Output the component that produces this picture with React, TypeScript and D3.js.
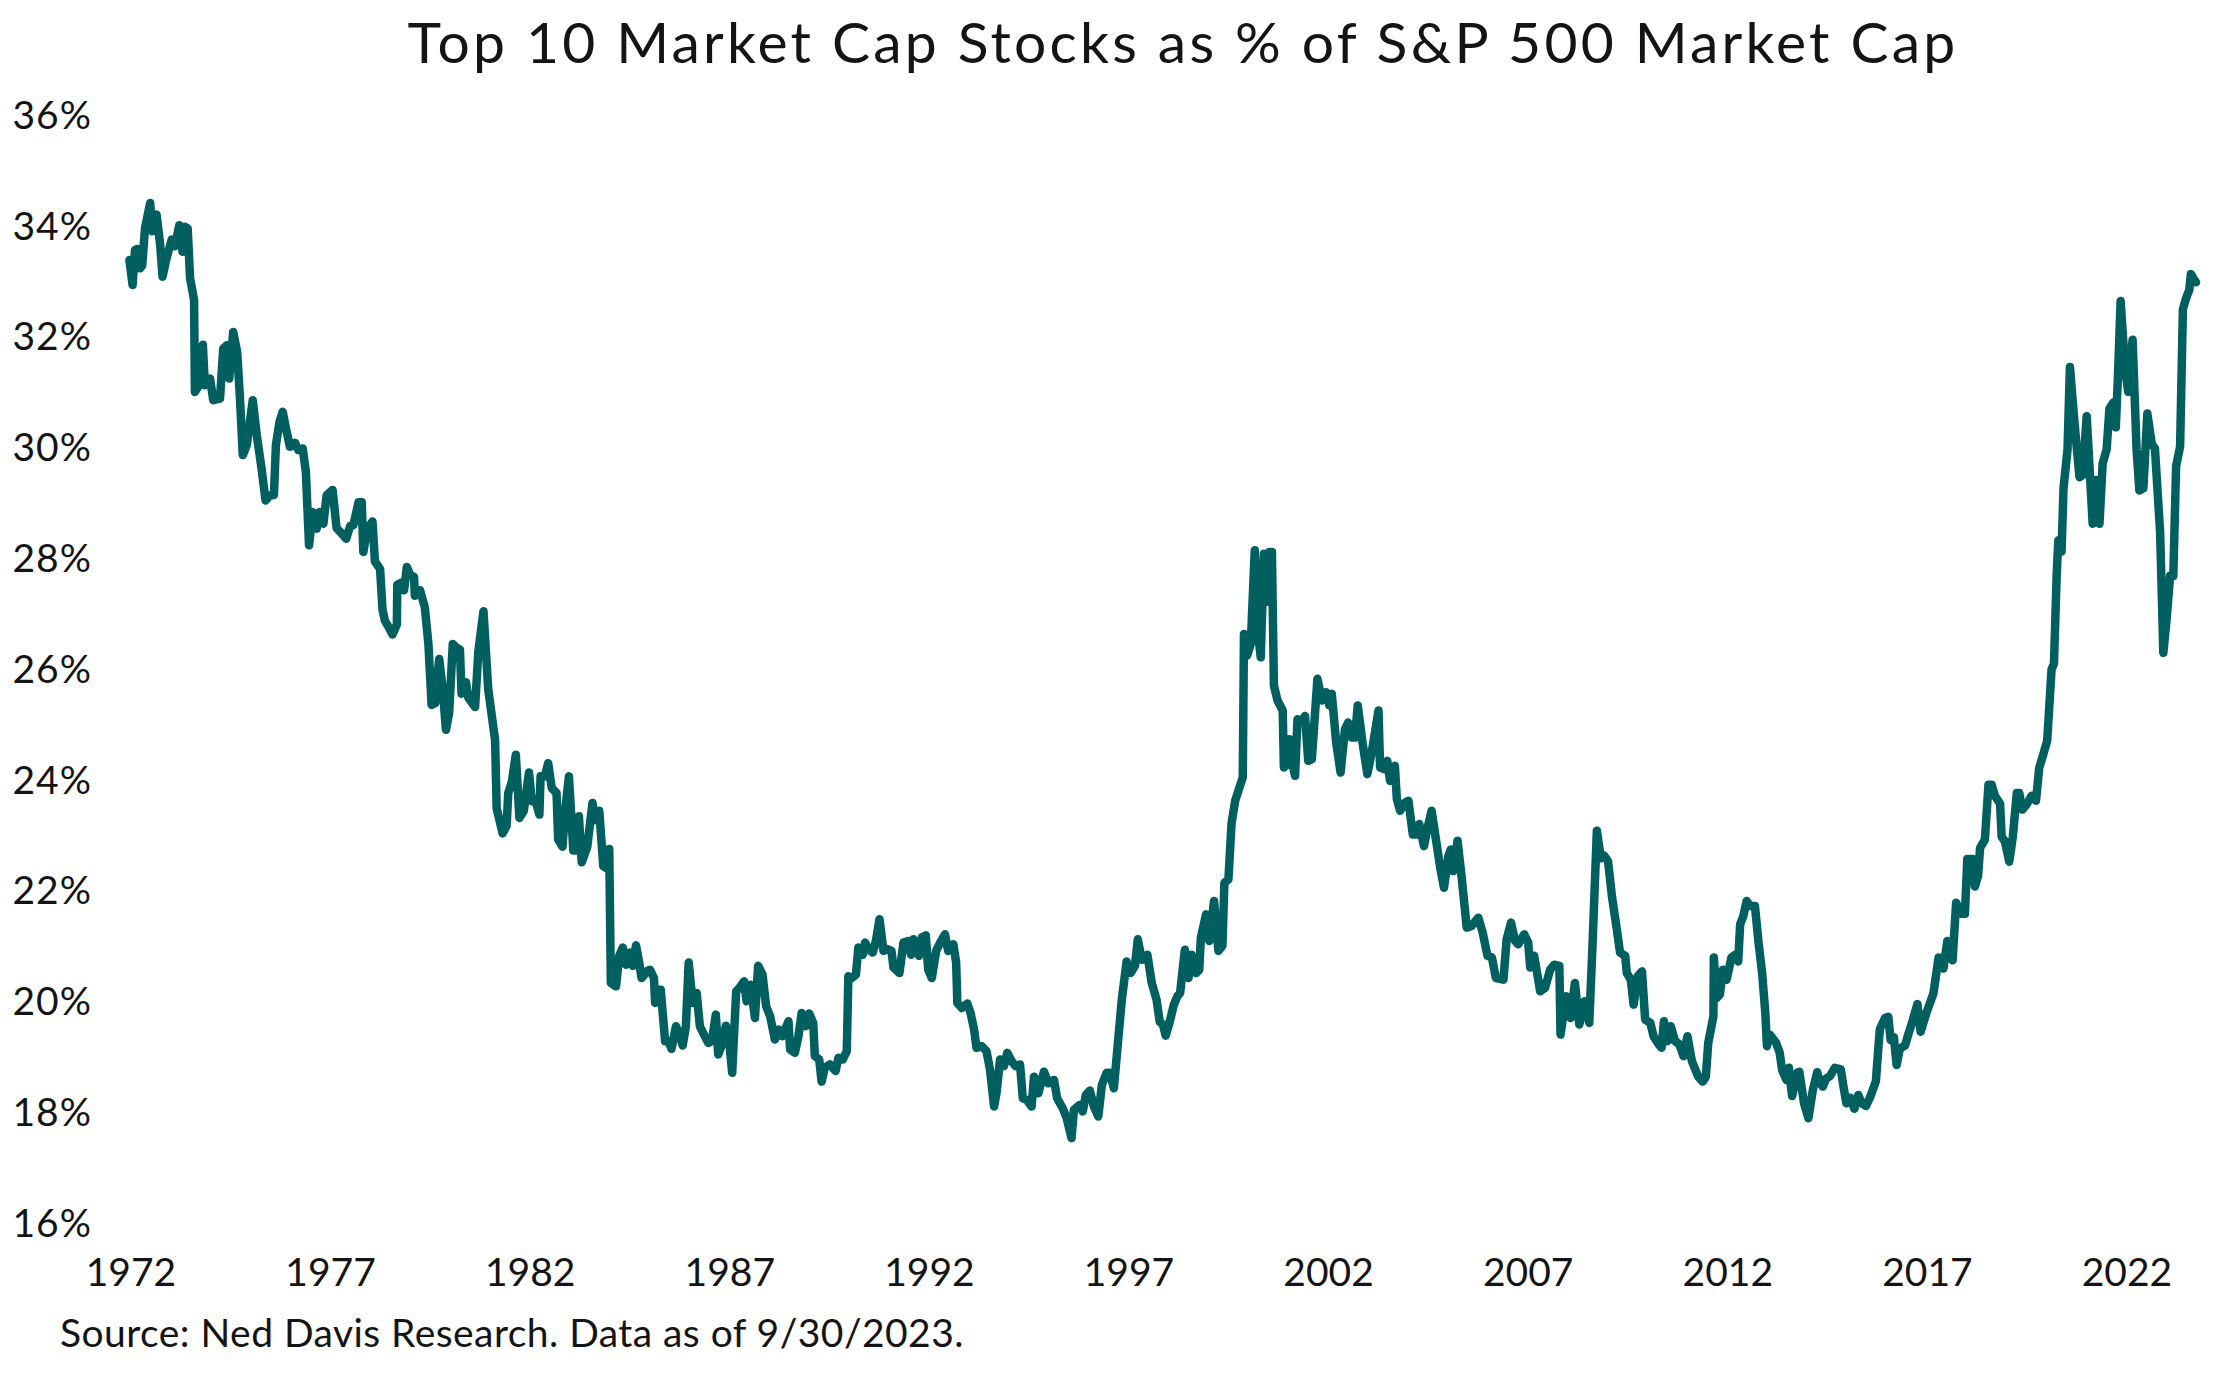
import React from "react";
import * as d3 from "d3";

const TITLE = "Top 10 Market Cap Stocks as % of S&P 500 Market Cap";
const SOURCE = "Source: Ned Davis Research. Data as of 9/30/2023.";

const yTicks = [16, 18, 20, 22, 24, 26, 28, 30, 32, 34, 36];
const xTicks = [1972, 1977, 1982, 1987, 1992, 1997, 2002, 2007, 2012, 2017, 2022];

// [decimal year, % of S&P 500 market cap]
const points1972to1977: [number, number][] = [
  [1971.96,33.4],[1972.04,32.95],[1972.10,33.58],[1972.16,33.6],[1972.23,33.25],[1972.28,33.3],[1972.35,33.97],[1972.48,34.43],[1972.53,33.92],[1972.64,34.22],[1972.73,33.68],[1972.79,33.10],[1972.89,33.43],[1973.02,33.77],[1973.10,33.65],[1973.21,34.03],[1973.29,33.55],[1973.35,34.0],[1973.42,33.97],[1973.48,33.07],[1973.58,32.68],[1973.60,31.02],[1973.71,31.14],[1973.80,31.87],[1973.85,31.14],[1973.98,31.26],[1974.06,30.87],[1974.23,30.9],[1974.31,31.80],[1974.40,31.86],[1974.46,31.26],[1974.56,32.10],[1974.66,31.74],[1974.73,30.90],[1974.80,29.88],[1974.90,30.06],[1975.05,30.87],[1975.15,30.24],[1975.27,29.64],[1975.37,29.06],[1975.48,29.15],[1975.58,29.16],[1975.63,30.06],[1975.72,30.48],[1975.80,30.66],[1975.90,30.30],[1975.98,30.03],[1976.11,30.1],[1976.19,29.97],[1976.30,30.0],[1976.38,29.58],[1976.46,28.25],[1976.55,28.85],[1976.65,28.55],[1976.72,28.85],[1976.82,28.64],[1976.90,29.15],[1977.05,29.25],[1977.15,28.56],[1977.28,28.46],[1977.39,28.37],[1977.49,28.6],[1977.57,28.61],[1977.70,29.03],[1977.78,29.03],
];

const points1978to1983: [number, number][] = [
  [1977.82,28.13],[1977.92,28.55],[1978.05,28.68],[1978.11,27.96],[1978.24,27.82],[1978.30,27.09],[1978.36,26.89],[1978.45,26.78],[1978.55,26.64],[1978.66,26.82],[1978.67,27.54],[1978.78,27.58],[1978.84,27.44],[1978.91,27.86],[1978.99,27.72],[1979.09,27.68],[1979.11,27.34],[1979.24,27.44],[1979.36,27.13],[1979.45,26.47],[1979.53,25.37],[1979.62,25.40],[1979.72,26.20],[1979.81,25.64],[1979.89,24.92],[1979.97,25.23],[1980.06,26.47],[1980.16,26.40],[1980.24,26.37],[1980.28,25.57],[1980.39,25.78],[1980.45,25.50],[1980.62,25.33],[1980.70,26.33],[1980.83,27.06],[1980.95,25.64],[1981.12,24.74],[1981.16,23.50],[1981.31,23.05],[1981.41,23.19],[1981.45,23.78],[1981.54,23.98],[1981.64,24.47],[1981.73,23.33],[1981.84,23.46],[1981.97,24.15],[1982.04,23.63],[1982.12,23.67],[1982.23,23.39],[1982.26,24.08],[1982.37,24.08],[1982.45,24.32],[1982.54,23.87],[1982.66,23.78],[1982.70,22.94],[1982.81,22.81],[1982.87,23.43],[1982.97,24.08],[1983.08,22.74],[1983.16,22.74],[1983.22,23.36],[1983.29,22.53],[1983.43,22.81],[1983.56,23.60],[1983.62,23.29],[1983.73,23.46],[1983.83,22.46],[1983.92,22.42],[1983.98,22.77],
];

const points1984to1989: [number, number][] = [
  [1984.02,20.35],[1984.15,20.29],[1984.23,20.84],[1984.32,20.99],[1984.40,20.68],[1984.50,20.90],[1984.57,20.66],[1984.65,21.03],[1984.73,20.72],[1984.79,20.44],[1984.92,20.56],[1985.00,20.59],[1985.10,20.44],[1985.13,19.99],[1985.18,20.23],[1985.27,20.23],[1985.38,19.30],[1985.46,19.30],[1985.54,19.16],[1985.65,19.57],[1985.74,19.42],[1985.82,19.22],[1985.90,19.57],[1985.97,20.72],[1986.07,19.99],[1986.17,20.17],[1986.25,19.57],[1986.35,19.42],[1986.46,19.27],[1986.55,19.30],[1986.65,19.78],[1986.71,19.06],[1986.82,19.27],[1986.90,19.58],[1986.96,19.48],[1987.06,18.73],[1987.16,20.20],[1987.24,20.26],[1987.36,20.38],[1987.42,20.02],[1987.52,20.32],[1987.63,19.72],[1987.71,20.66],[1987.82,20.50],[1987.91,19.93],[1988.01,19.75],[1988.13,19.33],[1988.22,19.51],[1988.32,19.39],[1988.47,19.66],[1988.51,19.15],[1988.63,19.09],[1988.72,19.39],[1988.80,19.81],[1988.90,19.57],[1988.99,19.80],[1989.09,19.63],[1989.13,19.03],[1989.24,18.97],[1989.30,18.57],[1989.38,18.82],[1989.51,18.88],[1989.65,18.76],[1989.72,19.00],[1989.83,18.97],[1989.93,19.12],[1989.97,20.47],
];

const points1990to1996: [number, number][] = [
  [1990.05,20.44],[1990.16,20.50],[1990.22,20.99],[1990.33,20.86],[1990.39,21.08],[1990.47,20.96],[1990.58,20.90],[1990.66,21.11],[1990.75,21.50],[1990.85,20.93],[1990.95,20.96],[1991.05,20.93],[1991.10,20.63],[1991.25,20.53],[1991.35,21.08],[1991.47,21.11],[1991.54,20.86],[1991.60,21.14],[1991.66,21.08],[1991.74,20.84],[1991.81,21.17],[1991.91,21.21],[1991.97,20.59],[1992.06,20.44],[1992.17,20.93],[1992.27,21.08],[1992.39,21.23],[1992.47,20.93],[1992.60,21.05],[1992.67,20.72],[1992.70,19.99],[1992.81,19.90],[1992.95,19.98],[1993.03,19.81],[1993.12,19.51],[1993.18,19.18],[1993.31,19.21],[1993.43,19.12],[1993.52,18.78],[1993.62,18.12],[1993.68,18.36],[1993.77,18.97],[1993.87,18.85],[1993.95,19.09],[1994.06,18.94],[1994.16,18.85],[1994.27,18.88],[1994.34,18.27],[1994.44,18.24],[1994.56,18.12],[1994.62,18.66],[1994.73,18.36],[1994.87,18.75],[1994.98,18.54],[1995.12,18.60],[1995.20,18.27],[1995.34,18.09],[1995.44,17.91],[1995.56,17.55],[1995.62,18.06],[1995.76,18.15],[1995.84,18.03],[1995.92,18.33],[1996.02,18.41],[1996.12,18.12],[1996.23,17.94],[1996.32,18.51],[1996.44,18.73],[1996.52,18.73],[1996.62,18.45],
];

const points1997to2002: [number, number][] = [
  [1996.82,20.05],[1996.94,20.74],[1997.04,20.53],[1997.15,20.66],[1997.22,21.14],[1997.32,20.77],[1997.46,20.86],[1997.57,20.35],[1997.69,20.05],[1997.77,19.65],[1997.85,19.6],[1997.92,19.4],[1998.02,19.65],[1998.12,19.95],[1998.21,20.11],[1998.28,20.17],[1998.40,20.95],[1998.49,20.44],[1998.57,20.86],[1998.68,20.53],[1998.76,20.59],[1998.80,21.17],[1998.93,21.59],[1999.01,21.11],[1999.13,21.83],[1999.24,20.93],[1999.34,21.02],[1999.39,22.16],[1999.49,22.22],[1999.57,23.24],[1999.66,23.64],[1999.78,23.91],[1999.85,24.06],[1999.88,26.65],[1999.96,26.26],[2000.05,26.47],[2000.15,28.16],[2000.24,26.62],[2000.30,26.23],[2000.38,28.10],[2000.45,27.23],[2000.52,28.13],[2000.58,28.13],[2000.63,25.72],[2000.72,25.45],[2000.85,25.27],[2000.88,24.24],[2000.95,24.30],[2001.02,24.75],[2001.07,24.39],[2001.16,24.09],[2001.22,25.11],[2001.33,25.08],[2001.41,25.17],[2001.49,24.36],[2001.58,24.39],[2001.72,25.84],[2001.83,25.45],[2001.94,25.60],[2002.02,25.36],
];

const points2002to2009: [number, number][] = [
  [2002.08,25.57],[2002.19,24.69],[2002.30,24.15],[2002.41,24.93],[2002.49,25.05],[2002.58,24.78],[2002.66,24.78],[2002.73,25.36],[2002.85,24.69],[2002.97,24.12],[2003.08,24.51],[2003.25,25.27],[2003.29,24.24],[2003.39,24.21],[2003.47,24.36],[2003.54,24.0],[2003.66,24.27],[2003.71,23.67],[2003.79,23.46],[2003.92,23.61],[2004.00,23.64],[2004.11,23.03],[2004.21,23.03],[2004.27,23.22],[2004.39,22.82],[2004.47,23.12],[2004.58,23.46],[2004.69,22.94],[2004.79,22.46],[2004.89,22.07],[2005.00,22.64],[2005.06,22.76],[2005.12,22.37],[2005.23,22.92],[2005.33,22.28],[2005.46,21.35],[2005.58,21.38],[2005.75,21.53],[2005.86,21.26],[2005.98,20.84],[2006.09,20.81],[2006.19,20.44],[2006.38,20.41],[2006.46,21.14],[2006.57,21.44],[2006.67,21.11],[2006.75,21.05],[2006.90,21.23],[2007.00,21.08],[2007.05,20.63],[2007.15,20.84],[2007.30,20.20],[2007.42,20.26],[2007.55,20.59],[2007.65,20.68],[2007.78,20.66],[2007.81,19.42],[2007.95,20.11],[2008.06,19.72],[2008.17,20.35],[2008.28,19.60],[2008.41,20.02],[2008.53,19.63],[2008.61,21.02],[2008.72,23.1],[2008.82,22.6],[2008.90,22.65],[2009.00,22.55],[2009.10,21.9],[2009.22,21.32],
];

const points2009to2014: [number, number][] = [
  [2009.30,20.90],[2009.43,20.84],[2009.47,20.53],[2009.57,20.41],[2009.64,19.96],[2009.74,20.47],[2009.85,20.56],[2009.93,19.69],[2010.06,19.63],[2010.14,19.39],[2010.27,19.24],[2010.34,19.18],[2010.40,19.66],[2010.49,19.30],[2010.57,19.57],[2010.68,19.30],[2010.79,19.24],[2010.89,19.03],[2010.99,19.39],[2011.10,18.94],[2011.26,18.66],[2011.37,18.57],[2011.45,18.66],[2011.51,19.27],[2011.64,19.75],[2011.65,20.81],[2011.72,20.08],[2011.80,20.14],[2011.88,20.59],[2011.97,20.41],[2012.09,20.81],[2012.18,20.86],[2012.26,20.74],[2012.31,21.41],[2012.39,21.56],[2012.47,21.83],[2012.56,21.74],[2012.68,21.74],[2012.77,21.08],[2012.86,20.53],[2012.94,19.81],[2012.98,19.21],[2013.05,19.42],[2013.21,19.27],[2013.30,19.09],[2013.36,18.78],[2013.47,18.60],[2013.53,18.82],[2013.61,18.31],[2013.74,18.73],[2013.79,18.75],[2013.91,18.18],[2014.02,17.91],[2014.13,18.42],[2014.24,18.74],[2014.30,18.57],[2014.38,18.48],[2014.47,18.63],
];

const points2014to2019: [number, number][] = [
  [2014.56,18.67],[2014.68,18.82],[2014.83,18.79],[2014.90,18.47],[2014.97,18.18],[2015.07,18.28],[2015.17,18.08],[2015.27,18.33],[2015.35,18.18],[2015.46,18.13],[2015.56,18.28],[2015.71,18.58],[2015.77,19.17],[2015.81,19.52],[2015.94,19.72],[2016.02,19.74],[2016.08,19.32],[2016.16,19.37],[2016.23,18.87],[2016.31,19.17],[2016.44,19.22],[2016.52,19.42],[2016.63,19.67],[2016.75,19.97],[2016.83,19.47],[2016.98,19.82],[2017.15,20.16],[2017.28,20.81],[2017.40,20.61],[2017.50,21.11],[2017.63,20.76],[2017.72,21.80],[2017.83,21.60],[2017.94,21.60],[2018.00,22.59],[2018.13,22.59],[2018.19,22.09],[2018.27,22.29],[2018.32,22.79],[2018.44,22.94],[2018.53,23.93],[2018.61,23.93],[2018.69,23.73],[2018.82,23.59],[2018.86,22.99],[2018.94,22.91],[2019.05,22.54],[2019.14,22.99],[2019.24,23.78],[2019.30,23.78],[2019.38,23.48],[2019.50,23.59],[2019.61,23.73],[2019.72,23.64],[2019.80,24.23],[2019.90,24.47],
];

const points2020to2023: [number, number][] = [
  [2020.00,24.72],[2020.11,26.01],[2020.17,26.11],[2020.24,27.75],[2020.28,28.34],[2020.36,28.14],[2020.41,29.28],[2020.51,29.98],[2020.57,31.47],[2020.66,30.68],[2020.72,30.18],[2020.81,29.48],[2020.89,29.52],[2020.99,30.58],[2021.06,29.68],[2021.14,28.64],[2021.22,29.43],[2021.31,28.64],[2021.39,29.73],[2021.49,29.98],[2021.56,30.72],[2021.66,30.83],[2021.72,30.38],[2021.78,31.42],[2021.84,32.66],[2021.95,31.47],[2022.03,31.02],[2022.14,31.96],[2022.24,29.98],[2022.31,29.24],[2022.41,29.28],[2022.51,30.63],[2022.62,30.08],[2022.70,30.0],[2022.83,28.48],[2022.91,26.31],[2022.99,26.90],[2023.08,27.70],[2023.16,27.70],[2023.23,29.68],[2023.33,30.03],[2023.40,32.51],[2023.48,32.71],[2023.56,32.86],[2023.60,33.15],[2023.68,33.05],[2023.73,33.0],
];

const allPoints = [
  ...points1972to1977,
  ...points1978to1983,
  ...points1984to1989,
  ...points1990to1996,
  ...points1997to2002,
  ...points2002to2009,
  ...points2009to2014,
  ...points2014to2019,
  ...points2020to2023,
];

const W = 2234;
const H = 1376;
const FONT = "Lato, 'Noto Sans', sans-serif";
const LINE_COLOR = "#01605f";
const TEXT_COLOR = "#141414";

export default function App() {
  const x = d3.scaleLinear().domain([1972, 2022]).range([131, 2127]);
  const y = d3.scaleLinear().domain([16, 36]).range([1224, 116]);
  const line = d3
    .line<[number, number]>()
    .x((d) => x(d[0]))
    .y((d) => y(d[1]));

  return (
    <svg
      width={W}
      height={H}
      viewBox={`0 0 ${W} ${H}`}
      style={{ position: "absolute", left: 0, top: 0, display: "block", background: "#fff" }}
      fontFamily={FONT}
    >
      <rect x={0} y={0} width={W} height={H} fill="#fff" />
      <text x={1183} y={63} textAnchor="middle" fontSize={57} letterSpacing={3.2} fill={TEXT_COLOR}>
        {TITLE}
      </text>
      {yTicks.map((t) => (
        <text
          key={t}
          x={92}
          y={y(t)}
          dy="0.33em"
          textAnchor="end"
          fontSize={39}
          letterSpacing={1}
          fill={TEXT_COLOR}
        >
          {`${t}%`}
        </text>
      ))}
      {xTicks.map((t) => (
        <text
          key={t}
          x={x(t)}
          y={1286}
          textAnchor="middle"
          fontSize={39}
          fill={TEXT_COLOR}
        >
          {t}
        </text>
      ))}
      <path
        d={line(allPoints) ?? ""}
        fill="none"
        stroke={LINE_COLOR}
        strokeWidth={8.5}
        strokeLinejoin="round"
        strokeLinecap="round"
      />
      <text x={60} y={1347} fontSize={39} letterSpacing={0.45} fill={TEXT_COLOR}>
        {SOURCE}
      </text>
    </svg>
  );
}
